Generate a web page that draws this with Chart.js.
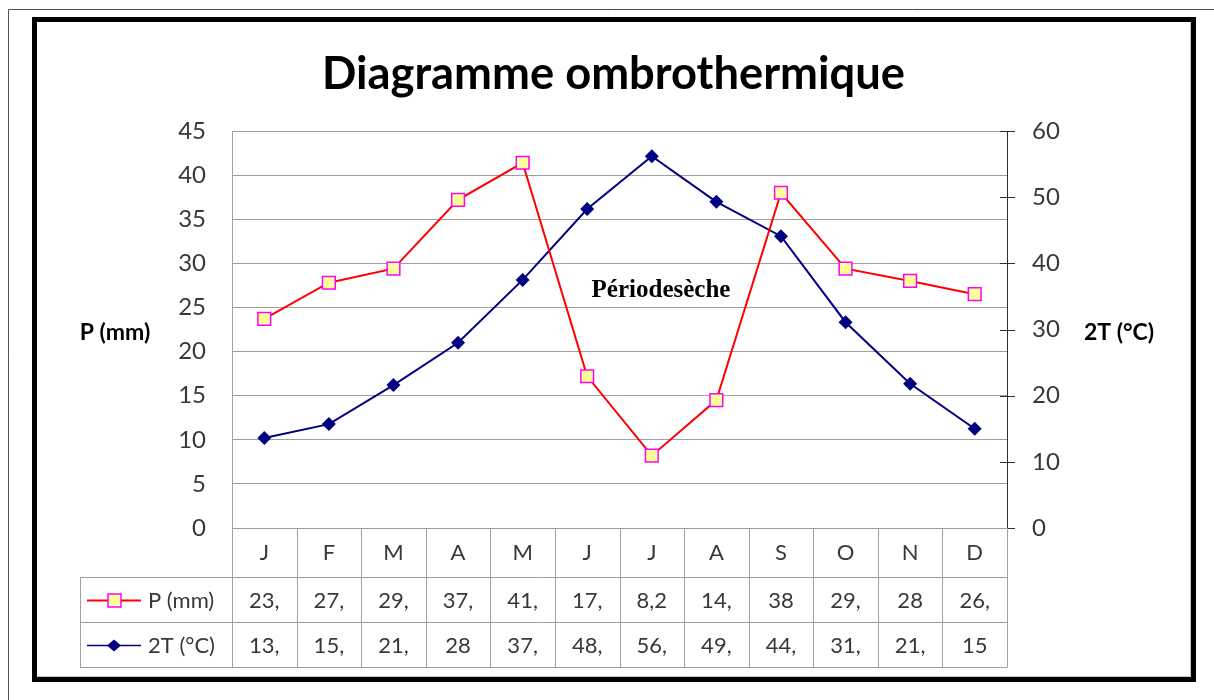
<!DOCTYPE html>
<html><head><meta charset="utf-8">
<script src="https://cdn.jsdelivr.net/npm/chart.js@4.4.1/dist/chart.umd.min.js"></script>
<style>html,body{margin:0;padding:0;background:#fff;}canvas{display:block;}</style>
</head><body>
<canvas id="c" width="1214" height="700"></canvas>
<script>
// ---- data ----
const months = ['J','F','M','A','M','J','J','A','S','O','N','D'];
const precip = [23.7, 27.8, 29.4, 37.2, 41.4, 17.2, 8.2, 14.5, 38, 29.4, 28, 26.5];
const temp2 = [13.6, 15.7, 21.6, 28, 37.5, 48.2, 56.2, 49.3, 44.1, 31.1, 21.8, 15];
const precipTable = ['23,','27,','29,','37,','41,','17,','8,2','14,','38','29,','28','26,'];
const tempTable = ['13,','15,','21,','28','37,','48,','56,','49,','44,','31,','21,','15'];
const seriesNames = ['P (mm)', '2T (°C)'];
const chartTitle = 'Diagramme ombrothermique';
const leftAxisTitle = 'P (mm)';
const rightAxisTitle = '2T (°C)';
const annotationText = 'Périodesèche';

const GRID = '#a0a0a0';
const TXT = '#383838';
const RED = '#ff0000', PFILL = '#ffff99', PBORDER = '#ff00ff', NAVY = '#000080';

function drawSquare(ctx, x, y, s) {
  ctx.fillStyle = PFILL; ctx.strokeStyle = PBORDER; ctx.lineWidth = 1.5;
  ctx.fillRect(x - s/2, y - s/2, s, s);
  ctx.strokeRect(x - s/2, y - s/2, s, s);
}
function drawDiamond(ctx, x, y, rx, ry) {
  ctx.fillStyle = NAVY;
  ctx.beginPath();
  ctx.moveTo(x, y - ry); ctx.lineTo(x + rx, y); ctx.lineTo(x, y + ry); ctx.lineTo(x - rx, y);
  ctx.closePath(); ctx.fill();
}

const decor = {
  id: 'decor',
  beforeDraw(chart) {
    const ctx = chart.ctx;
    ctx.save();
    ctx.fillStyle = '#fff'; ctx.fillRect(0, 0, chart.width, chart.height);
    ctx.strokeStyle = '#505050'; ctx.lineWidth = 1;
    ctx.beginPath(); ctx.moveTo(8.5, 700); ctx.lineTo(8.5, 9.5); ctx.lineTo(1214, 9.5); ctx.stroke();
    ctx.strokeStyle = '#000'; ctx.lineWidth = 5;
    ctx.strokeRect(34.5, 19.5, 1159, 660);
    ctx.strokeStyle = '#c8c8c8'; ctx.lineWidth = 1;
    ctx.beginPath(); ctx.moveTo(37, 676.5); ctx.lineTo(1190.5, 676.5); ctx.lineTo(1190.5, 22); ctx.stroke();
    ctx.restore();
  },
  afterDraw(chart) {
    const ctx = chart.ctx;
    const xs = chart.scales.x, y2 = chart.scales.y2;
    const {left: L, right: R, bottom: B} = chart.chartArea;
    ctx.save();
    // title
    ctx.fillStyle = '#000';
    ctx.font = 'bold 50px Lato';
    const w = ctx.measureText(chartTitle).width;
    const fs = 50 * 583 / w;
    ctx.font = 'bold ' + fs.toFixed(1) + 'px Lato';
    ctx.textAlign = 'center'; ctx.textBaseline = 'alphabetic';
    ctx.fillText(chartTitle, 613.5, 89);
    // axis titles
    ctx.font = 'bold 23px Lato';
    ctx.textBaseline = 'middle';
    ctx.fillText(leftAxisTitle, 115, 333);
    ctx.fillText(rightAxisTitle, 1119, 333);
    // annotation
    ctx.font = 'bold 25px "Liberation Serif"';
    ctx.fillText(annotationText, 661, 291);
    // right axis cross ticks
    ctx.strokeStyle = '#303030'; ctx.lineWidth = 1;
    y2.ticks.forEach(t => {
      const y = Math.round(y2.getPixelForValue(t.value)) + 0.5;
      ctx.beginPath(); ctx.moveTo(R - 7, y); ctx.lineTo(R + 8, y); ctx.stroke();
    });
    // data table
    const rows = [B, 577, 622, 667];
    const half = (xs.getPixelForValue(1) - xs.getPixelForValue(0)) / 2;
    ctx.strokeStyle = GRID; ctx.lineWidth = 1;
    ctx.beginPath();
    ctx.moveTo(L, Math.round(B) + 0.5); ctx.lineTo(R, Math.round(B) + 0.5);
    for (let r = 1; r < rows.length; r++) {
      ctx.moveTo(80, rows[r] + 0.5); ctx.lineTo(R, rows[r] + 0.5);
    }
    for (let i = 0; i <= months.length; i++) {
      const x = Math.round(xs.getPixelForValue(i) - half) + 0.5;
      ctx.moveTo(x, B); ctx.lineTo(x, rows[3] + 0.5);
    }
    ctx.moveTo(80.5, rows[1]); ctx.lineTo(80.5, rows[3] + 0.5);
    ctx.stroke();
    ctx.fillStyle = TXT; ctx.font = '22px Lato'; ctx.textAlign = 'center'; ctx.textBaseline = 'middle';
    const cy = [(rows[0] + rows[1]) / 2, (rows[1] + rows[2]) / 2 + 1, (rows[2] + rows[3]) / 2 + 1];
    months.forEach((m, i) => {
      const x = xs.getPixelForValue(i);
      ctx.fillText(m, x, cy[0]);
      ctx.fillText(precipTable[i], x, cy[1]);
      ctx.fillText(tempTable[i], x, cy[2]);
    });
    // legend keys
    ctx.lineWidth = 2;
    ctx.strokeStyle = RED;
    ctx.beginPath(); ctx.moveTo(87, cy[1]); ctx.lineTo(141, cy[1]); ctx.stroke();
    drawSquare(ctx, 114.5, cy[1], 13);
    ctx.strokeStyle = NAVY;
    ctx.beginPath(); ctx.moveTo(87, cy[2]); ctx.lineTo(141, cy[2]); ctx.stroke();
    drawDiamond(ctx, 114, cy[2], 7, 6);
    ctx.fillStyle = TXT; ctx.textAlign = 'left';
    ctx.fillText(seriesNames[0], 148, cy[1]);
    ctx.fillText(seriesNames[1], 148, cy[2]);
    ctx.restore();
  }
};

new Chart(document.getElementById('c'), {
  type: 'line',
  data: {
    labels: months,
    datasets: [
      {
        label: seriesNames[0], data: precip, yAxisID: 'y',
        borderColor: RED, borderWidth: 2, tension: 0,
        pointStyle: 'rect', pointRadius: 9, pointBackgroundColor: PFILL,
        pointBorderColor: PBORDER, pointBorderWidth: 1.5
      },
      {
        label: seriesNames[1], data: temp2, yAxisID: 'y2',
        borderColor: NAVY, borderWidth: 2, tension: 0,
        pointStyle: 'rectRot', pointRadius: 7, pointBackgroundColor: NAVY,
        pointBorderColor: NAVY, pointBorderWidth: 0
      }
    ]
  },
  options: {
    responsive: false, animation: false, devicePixelRatio: 1,
    layout: { padding: { top: 131, bottom: 172, left: 132, right: 107 } },
    plugins: { legend: { display: false }, title: { display: false }, tooltip: { enabled: false } },
    scales: {
      x: { type: 'category', display: false, offset: true },
      y: {
        position: 'left', min: 0, max: 45,
        ticks: { stepSize: 5, padding: 26, color: TXT, font: { family: 'Lato', size: 24 } },
        grid: { color: GRID, lineWidth: 1, drawTicks: false },
        border: { color: GRID, width: 1 },
        afterFit(s) { s.width = 100; }
      },
      y2: {
        position: 'right', min: 0, max: 60,
        ticks: { stepSize: 10, padding: 25, color: TXT, font: { family: 'Lato', size: 24 } },
        grid: { drawOnChartArea: false, drawTicks: false },
        border: { color: '#303030', width: 1 },
        afterFit(s) { s.width = 100; }
      }
    }
  },
  plugins: [decor]
});
</script>
</body></html>
